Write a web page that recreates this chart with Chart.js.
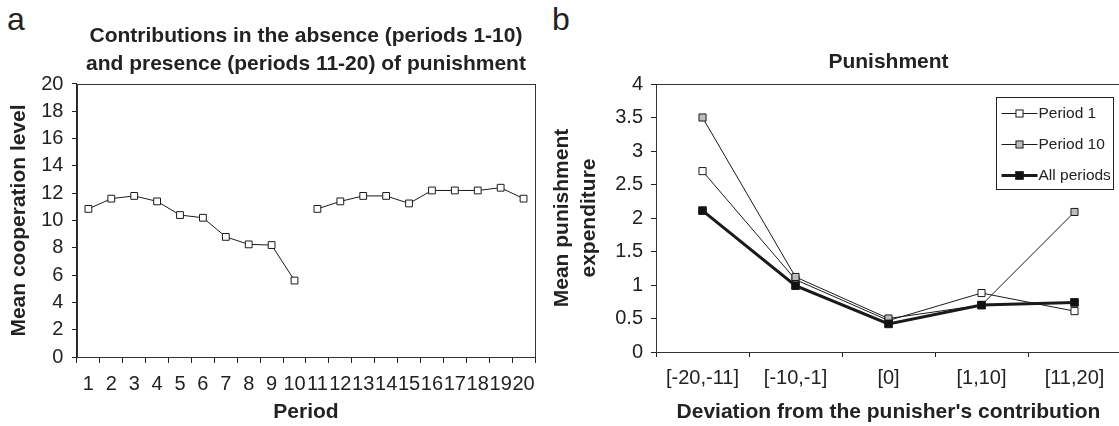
<!DOCTYPE html>
<html>
<head>
<meta charset="utf-8">
<script src="https://cdn.jsdelivr.net/npm/chart.js@4"></script>
<style>
  html, body { margin: 0; padding: 0; background: #fff; overflow: hidden; width: 1119px; height: 426px; }
  .box { position: absolute; top: 0; height: 426px; }
  .panel { position: absolute; font: 32px "Liberation Sans", Arial, sans-serif; line-height: 32px; color: #222; }
</style>
</head>
<body>
<div class="panel" style="left:7px;top:3px">a</div>
<div class="panel" style="left:552px;top:3px">b</div>
<div class="box" style="left:0;width:545px"><canvas id="chartA"></canvas></div>
<div class="box" style="left:545px;width:585px"><canvas id="chartB"></canvas></div>
<script>
// panel a: mean contribution per period
const periods = ['1', '2', '3', '4', '5', '6', '7', '8', '9', '10',
  '11', '12', '13', '14', '15', '16', '17', '18', '19', '20']
const noPunishment = [10.85, 11.6, 11.8, 11.4, 10.4, 10.2, 8.8, 8.25, 8.2, 5.6]      // periods 1-10
const withPunishment = [10.85, 11.4, 11.8, 11.8, 11.25, 12.2, 12.2, 12.2, 12.4, 11.6] // periods 11-20

// panel b: punishment by deviation
const deviations = ['[-20,-11]', '[-10,-1]', '[0]', '[1,10]', '[11,20]']
const period1 = [2.70, 1.08, 0.47, 0.88, 0.61]
const period10 = [3.50, 1.12, 0.50, 0.70, 2.09]
const allPeriods = [2.11, 0.99, 0.42, 0.70, 0.74]

const ink = '#222'
const fam = '"Liberation Sans", Arial, sans-serif'
Chart.defaults.font.family = fam
Chart.defaults.color = ink

// box around the plot area
const frame = {
  id: 'frame',
  beforeDatasetsDraw(chart) {
    const {ctx, chartArea: a} = chart
    ctx.save()
    ctx.strokeStyle = '#333'
    ctx.lineWidth = 1
    ctx.strokeRect(Math.round(a.left) + 0.5, Math.round(a.top) + 0.5,
      Math.round(a.right - a.left), Math.round(a.bottom - a.top))
    ctx.restore()
  }
}

// boxed legend inside the plot, upper right
const boxLegend = {
  id: 'boxLegend',
  afterDraw(chart) {
    const {ctx, chartArea: a} = chart
    const w = 117, h = 92, rowH = 31
    const x = Math.round(a.right - 8 - w) + 0.5
    const y = Math.round(a.top + 13) + 0.5
    ctx.save()
    ctx.fillStyle = '#fff'
    ctx.fillRect(x, y, w, h)
    ctx.strokeStyle = ink
    ctx.lineWidth = 1
    ctx.strokeRect(x, y, w, h)
    chart.data.datasets.forEach((ds, i) => {
      const cy = y + 16 + i * rowH
      ctx.strokeStyle = ds.borderColor
      ctx.lineWidth = ds.borderWidth
      ctx.beginPath()
      ctx.moveTo(x + 5, cy)
      ctx.lineTo(x + 41, cy)
      ctx.stroke()
      const s = ds.pointRadius * Math.SQRT2
      ctx.fillStyle = ds.pointBackgroundColor
      ctx.strokeStyle = ds.pointBorderColor
      ctx.lineWidth = 1
      ctx.fillRect(x + 23 - s / 2, cy - s / 2, s, s)
      ctx.strokeRect(x + 23 - s / 2, cy - s / 2, s, s)
      ctx.fillStyle = ink
      ctx.font = '15.5px ' + fam
      ctx.textBaseline = 'middle'
      ctx.fillText(ds.label, x + 42, cy)
    })
    ctx.restore()
  }
}

function lineSet(label, data, fill, width, radius) {
  return {
    label: label,
    data: data,
    borderColor: '#1a1a1a',
    borderWidth: width,
    tension: 0,
    spanGaps: false,
    pointStyle: 'rect',
    pointRadius: radius,
    pointBackgroundColor: fill,
    pointBorderColor: '#1a1a1a',
    pointBorderWidth: 1
  }
}

const nulls = Array(10).fill(null)

new Chart(document.getElementById('chartA'), {
  type: 'line',
  data: {
    labels: periods,
    datasets: [
      lineSet('Periods 1-10', noPunishment.concat(nulls), '#fff', 1, 4.8),
      lineSet('Periods 11-20', nulls.concat(withPunishment), '#fff', 1, 4.8)
    ]
  },
  options: {
    responsive: true,
    maintainAspectRatio: false,
    animation: false,
    devicePixelRatio: 1,
    layout: { padding: { left: 0, right: 10, top: 0, bottom: 0 } },
    plugins: {
      legend: { display: false },
      tooltip: { enabled: false },
      title: {
        display: true,
        fullSize: false,
        text: ['Contributions in the absence (periods 1-10)', 'and presence (periods 11-20) of punishment'],
        font: { size: 21, weight: 'bold', lineHeight: 1.333 },
        color: ink,
        padding: { top: 22, bottom: 6 }
      }
    },
    scales: {
      x: {
        offset: true,
        grid: { offset: true, drawOnChartArea: false, tickLength: 6, color: ink },
        border: { color: ink, width: 1 },
        ticks: { autoSkip: false, maxRotation: 0, minRotation: 0, padding: 9, font: { size: 20 }, color: ink },
        title: { display: true, text: 'Period', font: { size: 21, weight: 'bold' }, color: ink, padding: { top: -5.1, bottom: 0.9 } }
      },
      y: {
        min: 0,
        max: 20,
        grid: { drawOnChartArea: false, tickLength: 5, color: ink },
        border: { color: ink, width: 1 },
        ticks: { stepSize: 2, padding: 8.5, font: { size: 20 }, color: ink },
        title: { display: true, text: 'Mean cooperation level', font: { size: 21, weight: 'bold' }, color: ink, padding: { top: 7, bottom: 0.5 } }
      }
    }
  },
  plugins: [frame]
})

const setB = [
  lineSet('Period 1', period1, '#fff', 1, 5),
  lineSet('Period 10', period10, '#bdbdbd', 1, 5),
  lineSet('All periods', allPeriods, '#111', 3, 5.4)
]
setB[0].order = 2
setB[1].order = 1
setB[2].order = 0

new Chart(document.getElementById('chartB'), {
  type: 'line',
  data: { labels: deviations, datasets: setB },
  options: {
    responsive: true,
    maintainAspectRatio: false,
    animation: false,
    devicePixelRatio: 1,
    layout: { padding: { left: 0, right: 9, top: 0, bottom: 0 } },
    plugins: {
      legend: { display: false },
      tooltip: { enabled: false },
      title: {
        display: true,
        fullSize: false,
        text: 'Punishment',
        font: { size: 21, weight: 'bold', lineHeight: 1.2 },
        color: ink,
        padding: { top: 49.4, bottom: 9.4 }
      }
    },
    scales: {
      x: {
        offset: true,
        grid: { offset: true, drawOnChartArea: false, tickLength: 5, color: ink },
        border: { color: ink, width: 1 },
        ticks: { autoSkip: false, maxRotation: 0, minRotation: 0, padding: 9.5, font: { size: 20 }, color: ink },
        title: { display: true, text: "Deviation from the punisher's contribution", font: { size: 21, weight: 'bold' }, color: ink, padding: { top: -0.6, bottom: 1.4 } }
      },
      y: {
        min: 0,
        max: 4,
        grid: { drawOnChartArea: false, tickLength: 5, color: ink },
        border: { color: ink, width: 1 },
        ticks: { stepSize: 0.5, padding: 8, font: { size: 20 }, color: ink, callback: v => String(v) },
        title: {
          display: true,
          text: ['Mean punishment', 'expenditure'],
          font: { size: 21, weight: 'bold', lineHeight: 1.286 },
          color: ink,
          padding: { top: 3.5, bottom: 4.7 }
        }
      }
    }
  },
  plugins: [frame, boxLegend]
})
</script>
</body>
</html>
